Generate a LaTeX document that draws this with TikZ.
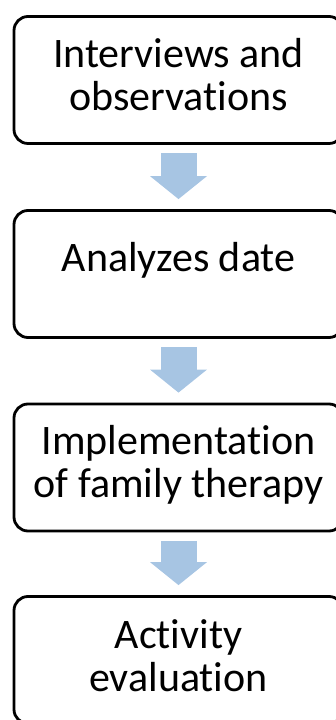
\documentclass[tikz,border=0pt]{standalone}
\usepackage{fontspec}
\setmainfont{Carlito}[Ligatures=NoCommon]
\usepackage{tikz}
\usetikzlibrary{arrows.meta}

\definecolor{arrowblue}{RGB}{167,197,227}

\begin{document}
\begin{tikzpicture}[x=1pt,y=1pt]
            \useasboundingbox (0,0) rectangle (335,720);

            \begin{scope}[every node/.style={draw=black, line width=2.8pt, rounded corners=14pt,
                          minimum width=329pt, minimum height=127pt, inner sep=0pt,
                          align=center, font=\fontsize{42}{43}\selectfont}]
                \node (A) [text height=62pt, text depth=0pt] at (178.5,640) {Interviews and\\observations};
                \node (B) [text height=29pt, text depth=33pt] at (178.5,446) {Analyzes date};
                \node (C) [text height=61pt, text depth=0pt] at (178.5,252.5) {Implementation\\of family therapy};
                \node (D) [text height=64pt, text depth=0pt] at (178.5,60) {Activity\\evaluation};

            \end{scope}

            \begin{scope}[>={Triangle[width=57pt,length=23pt,line width=0pt]},
                          every edge/.style={draw=arrowblue, line width=36pt,
                                             shorten <=8.5pt, shorten >=10pt}]
                \path [->] (A) edge (B);
                \path [->] (B) edge (C);
                \path [->] (C) edge (D);

            \end{scope}
        \end{tikzpicture}
\end{document}
